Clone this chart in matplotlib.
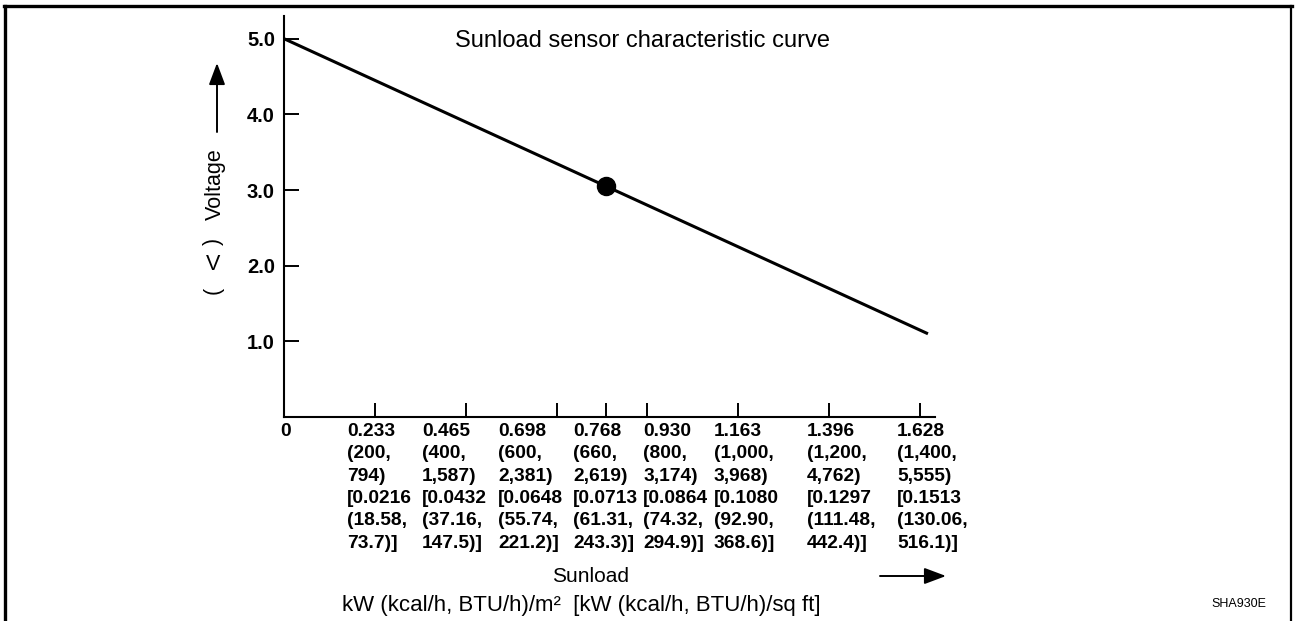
import numpy as np
import matplotlib
matplotlib.use("Agg")
import matplotlib.pyplot as plt
from matplotlib.lines import Line2D
from matplotlib.patches import FancyArrowPatch

plt.rcParams['font.family'] = ['Liberation Sans', 'DejaVu Sans']

# ---------------- data ----------------
sunload_kw = [0.233, 0.465, 0.698, 0.768, 0.930, 1.163, 1.396, 1.628]
sunload_kcal = [200, 400, 600, 660, 800, 1000, 1200, 1400]
sunload_btu = [794, 1587, 2381, 2619, 3174, 3968, 4762, 5555]
sunload_kw_sqft = [0.0216, 0.0432, 0.0648, 0.0713, 0.0864, 0.1080, 0.1297, 0.1513]
sunload_kcal_sqft = [18.58, 37.16, 55.74, 61.31, 74.32, 92.90, 111.48, 130.06]
sunload_btu_sqft = [73.7, 147.5, 221.2, 243.3, 294.9, 368.6, 442.4, 516.1]

voltage_ticks = [1.0, 2.0, 3.0, 4.0, 5.0]

curve_sunload = [0.0, 1.648]
curve_voltage = [5.0, 1.1]

point_sunload = [0.768]
point_voltage = [3.05]

# ------------- layout -------------
W, H = 1295, 621
fig = plt.figure(figsize=(W / 100, H / 100), dpi=100)

def fx(px):
    return px / W

def fy(py):
    return 1 - py / H

ax = fig.add_axes([fx(284), fy(417), fx(651), (417 - 16) / H])

# the original drawing places the 0.768 tick slightly off the linear position
knot_val = [-10.0, 0.698, 0.768, 0.930, 10.0]
knot_pos = [-10.0, 0.698, 0.825, 0.930, 10.0]
ax.set_xscale('function', functions=(lambda v: np.interp(v, knot_val, knot_pos),
                                     lambda p: np.interp(p, knot_pos, knot_val)))

ax.plot(curve_sunload, curve_voltage, color='black', lw=2.2, solid_capstyle='butt')
ax.plot(point_sunload, point_voltage, 'o', color='black', ms=13)

ax.set_xlim(0, 1.666)
ax.set_ylim(0, 5.30)

for s in ['top', 'right']:
    ax.spines[s].set_visible(False)
for s in ['left', 'bottom']:
    ax.spines[s].set_linewidth(1.5)

ax.set_yticks(voltage_ticks)
ax.set_yticklabels([f"{v:.1f}" for v in voltage_ticks], fontsize=14.5, fontweight='bold')
ax.tick_params(axis='y', direction='in', length=10.5, width=1.4, pad=6.5)

ax.set_xticks(sunload_kw)
ax.set_xticklabels([''] * len(sunload_kw))
ax.tick_params(axis='x', direction='in', length=10, width=1.4)
ax.xaxis.set_minor_locator(matplotlib.ticker.NullLocator())

# x labels (multi-unit columns)
label_left_px = [347, 422, 498, 573, 643, 714, 807, 897]
for i, x0 in enumerate(label_left_px):
    txt = (f"{sunload_kw[i]:.3f}\n({sunload_kcal[i]:,},\n{sunload_btu[i]:,})\n"
           f"[{sunload_kw_sqft[i]:.4f}\n({sunload_kcal_sqft[i]:.2f},\n{sunload_btu_sqft[i]:.1f})]")
    fig.text(fx(x0), fy(423), txt, ha='left', va='top', fontsize=13.8,
             fontweight='bold', linespacing=1.41)
fig.text(fx(286), fy(423), "0", ha='center', va='top', fontsize=13.8, fontweight='bold')

# title inside plot
fig.text(fx(455), fy(41), "Sunload sensor characteristic curve", ha='left', va='center',
         fontsize=17)

# y axis label with arrow
fig.text(fx(215), fy(184), "Voltage", rotation=90, ha='center', va='center', fontsize=15.5)
fig.text(fx(213), fy(290), "(", rotation=90, ha='center', va='center', fontsize=15.5)
fig.text(fx(213), fy(265), "V", rotation=0, ha='center', va='center', fontsize=15.5)
fig.text(fx(213), fy(241), ")", rotation=90, ha='center', va='center', fontsize=15.5)
fig.add_artist(FancyArrowPatch((fx(217), fy(132)), (fx(217), fy(63)), transform=fig.transFigure,
                               arrowstyle='-|>,head_length=1.2,head_width=0.45',
                               mutation_scale=11, color='black', lw=1.4,
                               shrinkA=0, shrinkB=0))

# x axis title
fig.text(fx(591), fy(577), "Sunload", ha='center', va='center', fontsize=15)
fig.add_artist(FancyArrowPatch((fx(880), fy(576)), (fx(946), fy(576)), transform=fig.transFigure,
                               arrowstyle='-|>,head_length=1.2,head_width=0.45',
                               mutation_scale=11, color='black', lw=1.4,
                               shrinkA=0, shrinkB=0))
fig.text(fx(342), fy(606), "kW (kcal/h, BTU/h)/m\u00b2  [kW (kcal/h, BTU/h)/sq ft]",
         ha='left', va='center', fontsize=16)

fig.text(fx(1239), fy(604), "SHA930E", ha='center', va='center', fontsize=9)

# frame border
fig.add_artist(Line2D([fx(5), fx(5)], [0, fy(5.5)], transform=fig.transFigure, color='black', lw=2.4))
fig.add_artist(Line2D([fx(4), fx(1292)], [fy(5.5), fy(5.5)], transform=fig.transFigure, color='black', lw=2.4))
fig.add_artist(Line2D([fx(1291), fx(1291)], [0, fy(5.5)], transform=fig.transFigure, color='black', lw=1.6))

fig.savefig("out.png", dpi=100)
